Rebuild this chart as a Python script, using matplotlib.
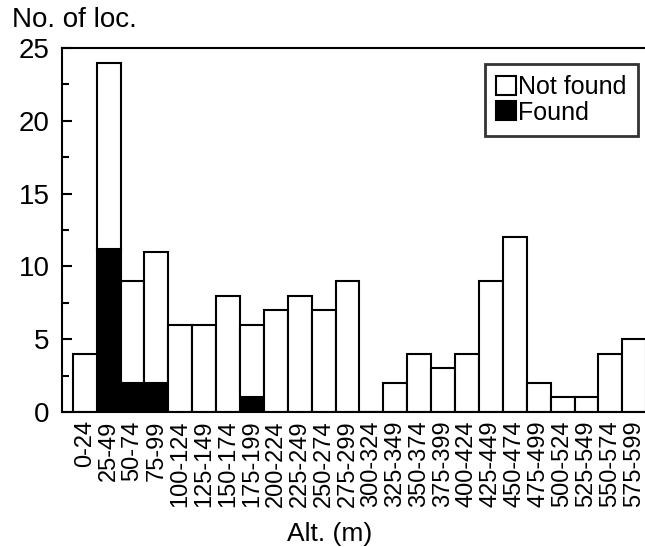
import numpy as np
import matplotlib
matplotlib.use("Agg")
import matplotlib.pyplot as plt
from matplotlib.patches import Patch
from matplotlib.ticker import MultipleLocator

plt.rcParams['font.family'] = ['Liberation Sans', 'DejaVu Sans']

# altitude classes (m)
classes = ["0-24", "25-49", "50-74", "75-99", "100-124", "125-149", "150-174",
           "175-199", "200-224", "225-249", "250-274", "275-299", "300-324",
           "325-349", "350-374", "375-399", "400-424", "425-449", "450-474",
           "475-499", "500-524", "525-549", "550-574", "575-599"]
found = [0, 11.2, 2, 2, 0, 0, 0, 1, 0, 0, 0, 0, 0,
         0, 0, 0, 0, 0, 0, 0, 0, 0, 0, 0]
not_found = [4, 12.8, 7, 9, 6, 6, 8, 5, 7, 8, 7, 9, 0,
             2, 4, 3, 4, 9, 12, 2, 1, 1, 4, 5]

fig = plt.figure(figsize=(6.45, 5.47), dpi=100)
ax = fig.add_axes([62 / 645, 1 - 412 / 547, 1 - 62 / 645, (412 - 48) / 547])

x = np.arange(len(classes)) + 0.5
ax.bar(x, found, width=1.0, color="black", edgecolor="black", linewidth=1.5)
ax.bar(x, not_found, width=1.0, bottom=found, color="white",
       edgecolor="black", linewidth=1.5)

ax.set_xlim(-0.45, 23.95)
ax.set_ylim(0, 25)
ax.yaxis.set_major_locator(MultipleLocator(5))
ax.yaxis.set_minor_locator(MultipleLocator(2.5))
ax.tick_params(axis="y", which="major", direction="in", length=7, width=1.5,
               labelsize=20, pad=9)
ax.tick_params(axis="y", which="minor", direction="in", length=5, width=1.5)
ax.set_xticks(x)
ax.set_xticklabels(classes, rotation=90, fontsize=17)
ax.tick_params(axis="x", length=0, pad=6)

for s in ["left", "bottom", "top"]:
    ax.spines[s].set_linewidth(1.5)
ax.spines["right"].set_visible(False)

fig.text(12 / 645, 1 - 33 / 547, "No. of loc.", fontsize=20, ha="left", va="bottom")
fig.text(330 / 645, 1 / 547, "Alt. (m)", fontsize=19, ha="center", va="bottom")

handles = [Patch(facecolor="white", edgecolor="black", linewidth=1.5, label="Not found"),
           Patch(facecolor="black", edgecolor="black", linewidth=1.5, label="Found")]
leg = ax.legend(handles=handles, loc="upper right",
                bbox_to_anchor=(638 / 645, 1 - 64 / 547),
                bbox_transform=fig.transFigure, fontsize=18, frameon=True,
                fancybox=False, handlelength=0.8, handleheight=0.8,
                handletextpad=0.1, labelspacing=0.05, borderpad=0.45,
                borderaxespad=0)
leg.get_frame().set_edgecolor("black")
leg.get_frame().set_linewidth(2)

fig.savefig("out.png", dpi=100)
